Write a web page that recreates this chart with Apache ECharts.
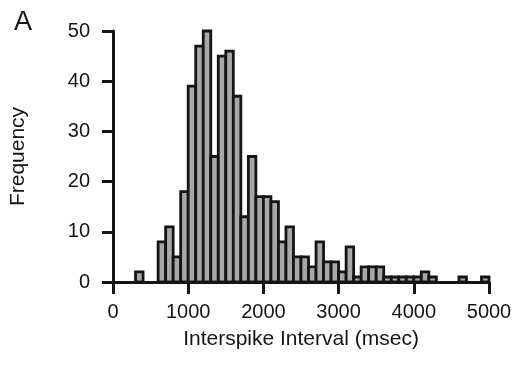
<!DOCTYPE html>
<html>
<head>
<meta charset="utf-8">
<script src="https://cdn.jsdelivr.net/npm/echarts@6/dist/echarts.min.js"></script>
<style>
  html, body { margin: 0; padding: 0; background: #fff; }
  #chart { width: 518px; height: 367px; }
</style>
</head>
<body>
<div id="chart"></div>
<script>
// histogram of interspike intervals, 100 msec bins from 0 to 5000
const binWidth = 100
const counts = [
    0, 0, 0, 2, 0, 0, 8, 11, 5, 18,
    39, 47, 50, 25, 45, 46, 37, 13, 25, 17,
    17, 16, 8, 11, 5, 5, 3, 8, 4, 4,
    2, 7, 1, 3, 3, 3, 1, 1, 1, 1,
    1, 2, 1, 0, 0, 0, 1, 0, 0, 1
]
const xTicks = [0, 1000, 2000, 3000, 4000, 5000]
const yTicks = [0, 10, 20, 30, 40, 50]

const binStarts = counts.map((_, i) => i * binWidth)
const bars = binStarts.map((x0, i) => [x0, x0 + binWidth, counts[i]]).filter((d) => d[2] > 0)

const font = 'Liberation Sans, Arial, sans-serif'
const ink = '#151515'

const chart = echarts.init(document.getElementById('chart'))

chart.setOption({
    backgroundColor: '#fff',
    animation: false,
    grid: { left: 113, right: 29, top: 31, bottom: 85 },
    graphic: [
        {
            type: 'text',
            left: 14,
            top: 9,
            style: { text: 'A', font: '27px ' + font, fill: ink },
        },
    ],
    xAxis: {
        type: 'value',
        min: xTicks[0],
        max: xTicks[xTicks.length - 1],
        interval: 1000,
        name: 'Interspike Interval (msec)',
        nameLocation: 'middle',
        nameGap: 47,
        nameTextStyle: { fontFamily: font, fontSize: 21, color: ink },
        axisLine: { show: true, lineStyle: { color: ink, width: 3 } },
        axisTick: { show: true, length: 12, lineStyle: { color: ink, width: 3 } },
        axisLabel: {
            fontFamily: font, fontSize: 20, color: ink, margin: 20,
            formatter: (v) => String(v),
        },
        splitLine: { show: false },
    },
    yAxis: {
        type: 'value',
        min: yTicks[0],
        max: yTicks[yTicks.length - 1],
        interval: 10,
        name: 'Frequency',
        nameLocation: 'middle',
        nameGap: 84,
        nameTextStyle: { fontFamily: font, fontSize: 21, color: ink },
        axisLine: { show: true, lineStyle: { color: ink, width: 3 } },
        axisTick: { show: true, length: 11, lineStyle: { color: ink, width: 3 } },
        axisLabel: { fontFamily: font, fontSize: 20, color: ink, margin: 23 },
        splitLine: { show: false },
    },
    series: [
        {
            type: 'custom',
            data: bars,
            encode: { x: [0, 1], y: 2 },
            renderItem: (params, api) => {
                const p0 = api.coord([api.value(0), 0])
                const p1 = api.coord([api.value(1), api.value(2)])
                return {
                    type: 'rect',
                    shape: { x: p0[0], y: p1[1], width: p1[0] - p0[0], height: p0[1] - p1[1] },
                    style: { fill: '#a8a8a8', stroke: ink, lineWidth: 2.8 },
                }
            },
        },
    ],
})
</script>
</body>
</html>
